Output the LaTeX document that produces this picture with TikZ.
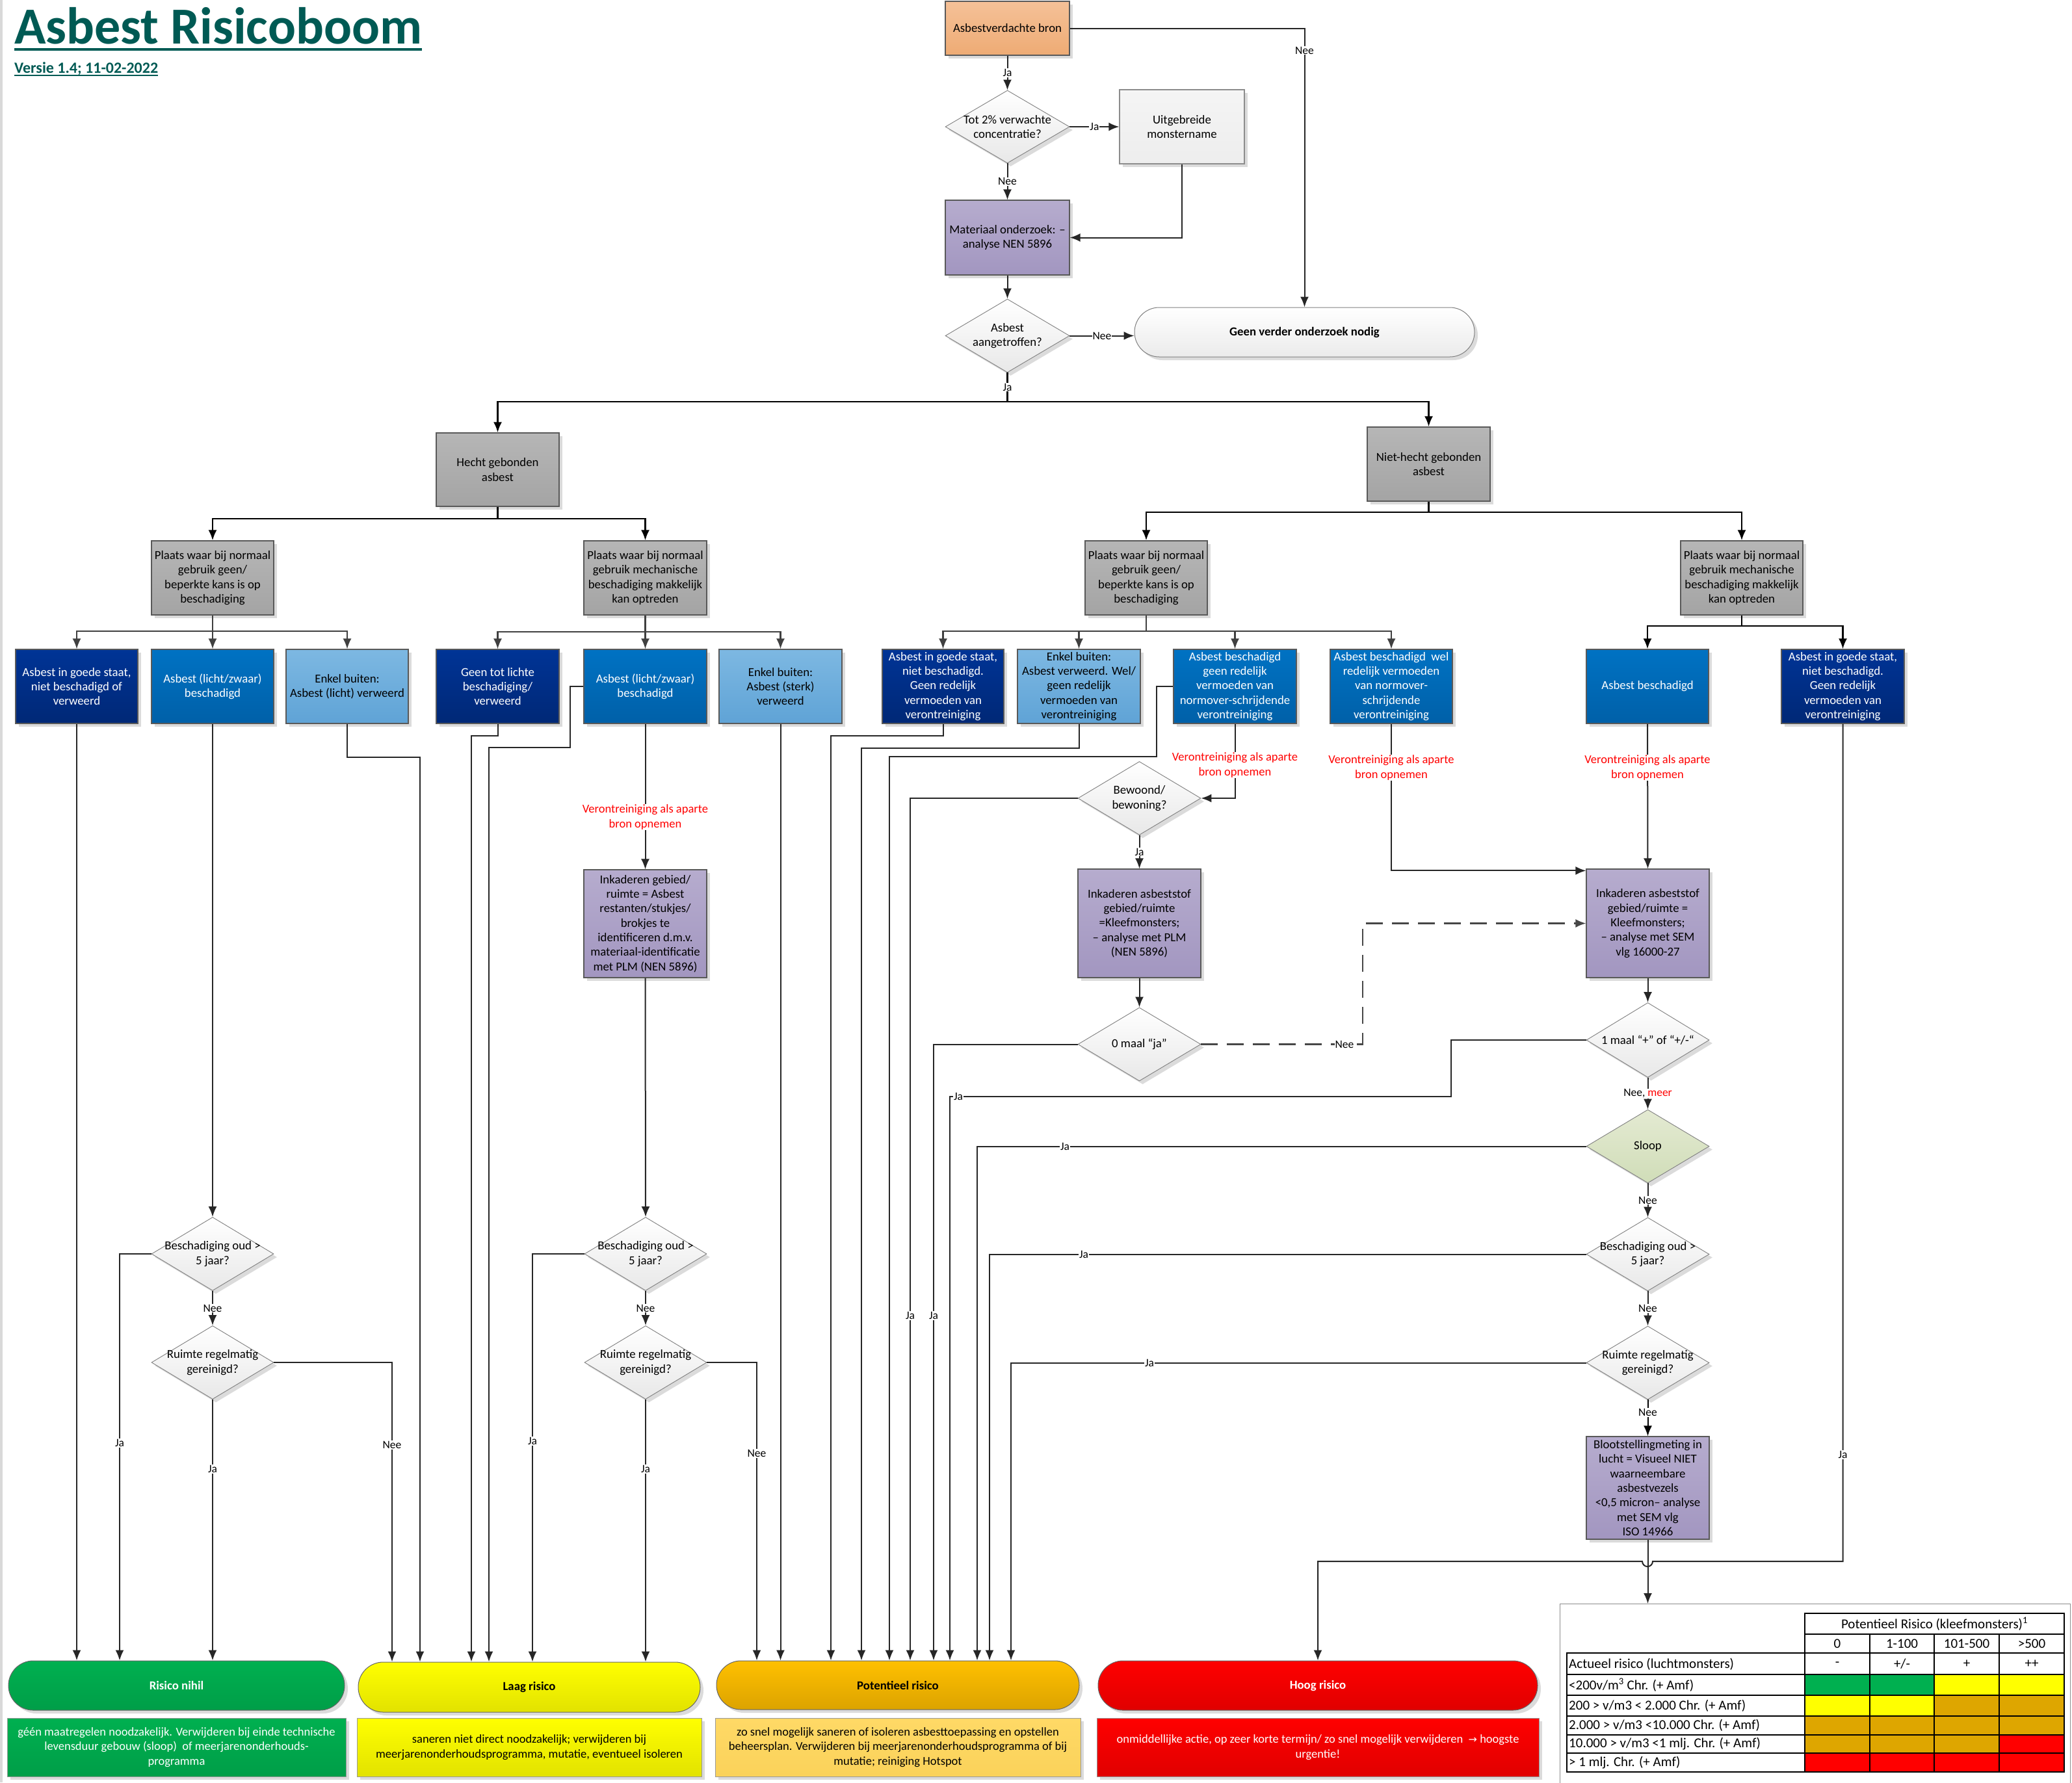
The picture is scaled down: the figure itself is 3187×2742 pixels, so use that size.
\documentclass[tikz,border=0pt]{standalone}
\usepackage{fontspec}
\setmainfont{Carlito}
\newfontfamily\symfont{DejaVu Sans}
\usetikzlibrary{shapes.geometric,shapes.misc,arrows.meta,shadows}
\definecolor{titlecol}{RGB}{0,90,84}
\definecolor{orT}{RGB}{245,193,152}\definecolor{orB}{RGB}{238,171,116}
\definecolor{puT}{RGB}{182,172,206}\definecolor{puB}{RGB}{162,150,192}
\definecolor{grT}{RGB}{182,182,182}\definecolor{grB}{RGB}{164,164,164}
\definecolor{nvT}{RGB}{0,52,150}\definecolor{nvB}{RGB}{0,40,118}
\definecolor{mbT}{RGB}{0,114,195}\definecolor{mbB}{RGB}{0,96,168}
\definecolor{lbT}{RGB}{125,184,226}\definecolor{lbB}{RGB}{95,163,214}
\definecolor{slT}{RGB}{228,234,210}\definecolor{slB}{RGB}{208,221,184}
\definecolor{cgreen}{RGB}{0,176,80}\definecolor{cgreenB}{RGB}{0,158,72}
\definecolor{cyel}{RGB}{255,255,0}\definecolor{cyelB}{RGB}{226,226,0}
\definecolor{corg}{RGB}{255,192,0}\definecolor{corgB}{RGB}{220,163,0}
\definecolor{cred}{RGB}{255,0,0}\definecolor{credB}{RGB}{224,0,0}
\definecolor{lorg}{RGB}{255,217,102}\definecolor{lorgB}{RGB}{250,210,90}
\definecolor{gold}{RGB}{222,166,0}
\newcommand\tabrow[6]{%
  \fill[#3] (2776,#1) rectangle (2876,#2);
  \fill[#4] (2876,#1) rectangle (2975,#2);
  \fill[#5] (2975,#1) rectangle (3075,#2);
  \fill[#6] (3075,#1) rectangle (3175,#2);}
\begin{document}
\begin{tikzpicture}[x=1pt,y=-1pt,
  font=\fontsize{18.8}{22.3}\selectfont,
  wh/.style 2 args={minimum width=#1pt,minimum height=#2pt},
  shad/.style={drop shadow={shadow xshift=5pt,shadow yshift=-5pt,fill=black!14,opacity=1}},
  box/.style={draw=black!65,line width=1.2pt,align=center,inner sep=1pt,shad},
  orangebox/.style={box,top color=orT,bottom color=orB},
  purplebox/.style={box,top color=puT,bottom color=puB},
  graybox/.style={box,top color=grT,bottom color=grB},
  navybox/.style={box,top color=nvT,bottom color=nvB,text=white},
  medbox/.style={box,top color=mbT,bottom color=mbB,text=white},
  ltbox/.style={box,top color=lbT,bottom color=lbB},
  lightbox/.style={box,draw=black!45,top color=black!4,bottom color=black!7},
  dia/.style={shape=diamond,draw=black!50,line width=0.9pt,inner sep=0pt,top color=white,bottom color=black!9,shad},
  sloopdia/.style={dia,top color=slT,bottom color=slB},
  dtxt/.style={align=center,inner sep=0pt},
  capsule/.style={rounded rectangle,draw=black!60,line width=1pt,inner sep=2pt,font=\fontsize{18.8}{22.3}\selectfont\bfseries,shad},
  tbox/.style={draw=black!40,line width=1pt,align=center,inner sep=2pt,font=\fontsize{18.5}{22.5}\selectfont,shad},
  conn/.style={draw=black!85,line width=2pt},
  bus/.style={draw=black,line width=2.6pt},
  arr/.style={-{Latex[length=16pt,width=13pt]}},
  lbl/.style={fill=white,inner sep=1pt,font=\fontsize{17.5}{20}\selectfont},
  redt/.style={fill=white,inner sep=1pt,text=red,align=center,font=\fontsize{18.5}{22.3}\selectfont},
  tt/.style={inner sep=0pt,font=\fontsize{21}{24}\selectfont},
  tabl/.style={draw=black,line width=1.1pt},
  tabthick/.style={draw=black,line width=2.6pt}
]
\useasboundingbox (0,0) rectangle (3187,2742);
\fill[white] (0,0) rectangle (3187,2742);
\draw[black!15,line width=4pt] (2,0) -- (2,2742);

% title
\node[anchor=base west,inner sep=0pt,text=titlecol,font=\fontsize{80}{90}\selectfont\bfseries] (title) at (22,67) {Asbest Risicoboom};
\draw[titlecol,line width=4pt] ([yshift=-9pt]title.base west) -- ([yshift=-9pt]title.base east);
\node[anchor=base west,inner sep=0pt,text=titlecol,font=\fontsize{24}{28}\selectfont\bfseries] (versie) at (22,112) {Versie 1.4; 11-02-2022};
\draw[titlecol,line width=1.6pt] ([yshift=-4pt]versie.base west) -- ([yshift=-4pt]versie.base east);

% top part
\node[orangebox,wh={191}{83}] (src) at (1549.5,43.5) {Asbestverdachte bron};
\node[dia,wh={191}{112}] (q1) at (1549.5,195) {};
\node[dtxt] (q1t) at (q1) {Tot 2\% verwachte\\concentratie?};
\node[lightbox,wh={192}{114}] (uit) at (1818,195) {Uitgebreide\\monstername};
\node[purplebox,wh={191}{115}] (mat) at (1549.5,365.5) {Materiaal onderzoek: –\\analyse NEN 5896};
\node[dia,wh={191}{113}] (q2) at (1549.5,516.5) {};
\node[dtxt] (q2t) at (q2) {Asbest\\aangetroffen?};
\node[capsule,draw=black!50,top color=white,bottom color=black!8,wh={527}{76}] (geen) at (2006.5,511) {Geen verder onderzoek nodig};

% level 2/3
\node[graybox,wh={189}{113}] (hecht) at (765.5,722.5) {Hecht gebonden\\asbest};
\node[graybox,wh={189}{114}] (nh) at (2197.5,714) {Niet-hecht gebonden\\asbest};
\node[graybox,wh={188}{114}] (hl) at (327,889) {Plaats waar bij normaal\\gebruik geen/\\beperkte kans is op\\beschadiging};
\node[graybox,wh={189}{114}] (hr) at (992.5,889) {Plaats waar bij normaal\\gebruik mechanische\\beschadiging makkelijk\\kan optreden};
\node[graybox,wh={188}{114}] (nl) at (1763,889) {Plaats waar bij normaal\\gebruik geen/\\beperkte kans is op\\beschadiging};
\node[graybox,wh={188}{114}] (nr) at (2679,889) {Plaats waar bij normaal\\gebruik mechanische\\beschadiging makkelijk\\kan optreden};

% row of blue boxes
\node[navybox,wh={188}{114}] (b1) at (118,1056) {Asbest in goede staat,\\niet beschadigd of\\verweerd};
\node[medbox,wh={188}{114}] (b2) at (327,1056) {Asbest (licht/zwaar)\\beschadigd};
\node[ltbox,wh={188}{114}] (b3) at (534,1056) {Enkel buiten:\\Asbest (licht) verweerd};
\node[navybox,wh={189}{114}] (b4) at (765.5,1056) {Geen tot lichte\\beschadiging/\\verweerd};
\node[medbox,wh={189}{114}] (b5) at (992.5,1056) {Asbest (licht/zwaar)\\beschadigd};
\node[ltbox,wh={189}{114}] (b6) at (1200.5,1056) {Enkel buiten:\\Asbest (sterk)\\verweerd};
\node[navybox,wh={187}{114}] (b7) at (1450.5,1056) {Asbest in goede staat,\\niet beschadigd.\\Geen redelijk\\vermoeden van\\verontreiniging};
\node[ltbox,wh={189}{114}] (b8) at (1659.5,1056) {Enkel buiten:\\Asbest verweerd. Wel/\\geen redelijk\\vermoeden van\\verontreiniging};
\node[medbox,wh={189}{114}] (b9) at (1899.5,1056) {Asbest beschadigd\\geen redelijk\\vermoeden van\\normover-schrijdende\\verontreiniging};
\node[medbox,wh={188}{114}] (b10) at (2140,1056) {Asbest beschadigd\ \ wel\\redelijk vermoeden\\van normover-\\schrijdende\\verontreiniging};
\node[medbox,wh={188}{114}] (b11) at (2534,1056) {Asbest beschadigd};
\node[navybox,wh={189}{114}] (b12) at (2834.5,1056) {Asbest in goede staat,\\niet beschadigd.\\Geen redelijk\\vermoeden van\\verontreiniging};

% purple boxes
\node[purplebox,wh={189}{166}] (ink1) at (992.5,1421) {Inkaderen gebied/\\ruimte = Asbest\\restanten/stukjes/\\brokjes te\\identificeren d.m.v.\\materiaal-identificatie\\met PLM (NEN 5896)};
\node[purplebox,wh={189}{167}] (ink2) at (1752.5,1420.5) {Inkaderen asbeststof\\gebied/ruimte\\=Kleefmonsters;\\– analyse met PLM\\(NEN 5896)};
\node[purplebox,wh={189}{167}] (ink3) at (2534.5,1420.5) {Inkaderen asbeststof\\gebied/ruimte =\\Kleefmonsters;\\– analyse met SEM\\vlg 16000-27};
\node[purplebox,wh={189}{158}] (bloot) at (2534.5,2289) {Blootstellingmeting in\\lucht = Visueel NIET\\waarneembare\\asbestvezels\\<0,5 micron– analyse\\met SEM vlg\\ISO 14966};

% diamonds
\node[dia,wh={188}{113}] (qb1) at (327,1929) {};
\node[dtxt] (qb1t) at (qb1) {Beschadiging oud >\\5 jaar?};
\node[dia,wh={188}{113}] (qr1) at (327,2096) {};
\node[dtxt] (qr1t) at (qr1) {Ruimte regelmatig\\gereinigd?};
\node[dia,wh={188}{113}] (qb2) at (993,1929) {};
\node[dtxt] (qb2t) at (qb2) {Beschadiging oud >\\5 jaar?};
\node[dia,wh={188}{113}] (qr2) at (993,2096) {};
\node[dtxt] (qr2t) at (qr2) {Ruimte regelmatig\\gereinigd?};
\node[dia,wh={189}{113}] (bew) at (1752.5,1228) {};
\node[dtxt] (bewt) at (bew) {Bewoond/\\bewoning?};
\node[dia,wh={189}{113}] (q0) at (1752.5,1606.5) {};
\node[dtxt] (q0t) at (q0) {0 maal “ja”};
\node[dia,wh={189}{115}] (q1m) at (2534.5,1600) {};
\node[dtxt] (q1mt) at (q1m) {1 maal “+” of “+/-“};
\node[sloopdia,wh={189}{113}] (sloop) at (2534.5,1763.5) {};
\node[dtxt] (sloopt) at (sloop) {Sloop};
\node[dia,wh={189}{113}] (qb3) at (2534.5,1929.5) {};
\node[dtxt] (qb3t) at (qb3) {Beschadiging oud >\\5 jaar?};
\node[dia,wh={189}{113}] (qr3) at (2534.5,2096.5) {};
\node[dtxt] (qr3t) at (qr3) {Ruimte regelmatig\\gereinigd?};

% result capsules
\node[capsule,top color=cgreen,bottom color=cgreenB,text=white,wh={521}{76}] (nihil) at (271.5,2593) {Risico nihil};
\node[capsule,top color=cyel,bottom color=cyelB,wh={530}{77}] (laag) at (814,2595.5) {Laag risico};
\node[capsule,top color=corg,bottom color=corgB,wh={562}{75}] (pot) at (1381,2592.5) {Potentieel risico};
\node[capsule,top color=cred,bottom color=credB,text=white,wh={680}{76}] (hoog) at (2027,2593) {Hoog risico};
\node[tbox,top color=cgreen,bottom color=cgreenB,text=white,wh={521}{90}] (tnihil) at (271.5,2688) {géén maatregelen noodzakelijk. Verwijderen bij einde technische\\levensduur gebouw (sloop)\ \ of meerjarenonderhouds-\\programma};
\node[tbox,top color=cyel,bottom color=cyelB,wh={530}{90}] (tlaag) at (814,2688) {saneren niet direct noodzakelijk; verwijderen bij\\meerjarenonderhoudsprogramma, mutatie, eventueel isoleren};
\node[tbox,top color=lorg,bottom color=lorgB,wh={562}{90}] (tpot) at (1381,2688) {zo snel mogelijk saneren of isoleren asbesttoepassing en opstellen\\beheersplan. Verwijderen bij meerjarenonderhoudsprogramma of bij\\mutatie; reiniging Hotspot};
\node[tbox,top color=cred,bottom color=credB,text=white,wh={680}{90}] (thoog) at (2027,2688) {onmiddellijke actie, op zeer korte termijn/ zo snel mogelijk verwijderen\ \ {\symfont\fontsize{16}{20}\selectfont →} hoogste\\urgentie!};

% legend frame
\node[draw=black!45,line width=1.2pt,minimum width=785pt,minimum height=282pt,anchor=north west,inner sep=0pt] (legend) at (2399,2467) {};

% ---------- connectors: top ----------
\draw[conn,arr] (src.south) -- node[lbl]{Ja} (q1.north);
\draw[conn,arr] (q1.east) -- node[lbl]{Ja} (uit.west);
\draw[conn,arr] (q1.south) -- node[lbl]{Nee} (mat.north);
\draw[conn,arr] (uit.south) |- (mat.east);
\draw[conn,arr] (src.east) -| node[lbl,pos=0.54]{Nee} (geen.north);
\draw[conn,arr] (mat.south) -- (q2.north);
\draw[conn,arr] (q2.east) -- node[lbl]{Nee} (q2.east -| geen.west);

% buses
\coordinate (jb) at (1549.5,618);
\draw[bus] (q2.south) -- node[lbl]{Ja} (jb);
\draw[bus,arr] (jb) -| (hecht.north);
\draw[bus,arr] (jb) -| (nh.north);
\coordinate (hb) at (765.5,798);
\draw[bus] (hecht.south) -- (hb);
\draw[bus,arr] (hb) -| (hl.north);
\draw[bus,arr] (hb) -| (hr.north);
\coordinate (nb) at (2197.5,788);
\draw[bus] (nh.south) -- (nb);
\draw[bus,arr] (nb) -| (nl.north);
\draw[bus,arr] (nb) -| (nr.north);
\coordinate (hlb) at (327,971);
\draw[conn,line width=2.2pt,black!75] (hl.south) -- (hlb);
\foreach \n in {b1,b2,b3} \draw[conn,line width=2.2pt,black!75,arr] (hlb) -| (\n.north);
\coordinate (hrb) at (992.5,972);
\draw[conn,line width=2.2pt,black!75] (hr.south) -- (hrb);
\foreach \n in {b4,b5,b6} \draw[conn,line width=2.2pt,black!75,arr] (hrb) -| (\n.north);
\coordinate (nlb) at (1763,971);
\draw[conn,line width=2.2pt,black!75] (nl.south) -- (nlb);
\foreach \n in {b7,b8,b9,b10} \draw[conn,line width=2.2pt,black!75,arr] (nlb) -| (\n.north);
\coordinate (nrb) at (2679,963);
\draw[bus] (nr.south) -- (nrb);
\foreach \n in {b11,b12} \draw[bus,arr] (nrb) -| (\n.north);

% ---------- hecht left column ----------
\draw[conn,arr] (b1.south) -- (b1.south |- nihil.north);
\draw[conn,arr] (b2.south) -- (qb1.north);
\draw[conn,arr] (qb1.west) -| (184,0 |- nihil.north);
\draw[conn,arr] (qb1.south) -- node[lbl]{Nee} (qr1.north);
\draw[conn,arr] (qr1.south) -- (qr1.south |- nihil.north);
\draw[conn,arr] (qr1.east) -| (603,0 |- laag.north);
\draw[conn,arr] (b3.south) |- (646,1165) -- (646,0 |- laag.north);

% ---------- hecht right column ----------
\draw[conn,arr] (b4.south) |- (725,1132) -- (725,0 |- laag.north);
\draw[conn,arr] (b5.west) -| (877,1150) -| (752,0 |- laag.north);
\draw[conn,arr] (b5.south) -- (ink1.north);
\draw[conn,arr] (ink1.south) -- (qb2.north);
\draw[conn,arr] (qb2.west) -| (819,0 |- laag.north);
\draw[conn,arr] (qb2.south) -- node[lbl]{Nee} (qr2.north);
\draw[conn,arr] (qr2.south) -- (qr2.south |- laag.north);
\draw[conn,arr] (qr2.east) -| (1164,0 |- pot.north);
\draw[conn,arr] (b6.south) -- (b6.south |- pot.north);

% ---------- niet-hecht left ----------
\draw[conn,arr] (b7.south) |- (1278,1132) -- (1278,0 |- pot.north);
\draw[conn,arr] (b8.south) |- (1325,1151) -- (1325,0 |- pot.north);
\draw[conn,arr] (b9.west) -| (1779,1164) -| (1368,0 |- pot.north);
\draw[conn,arr] (b9.south) |- (bew.east);
\draw[conn,arr] (bew.west) -| (1400,0 |- pot.north);
\draw[conn,arr] (bew.south) -- node[lbl]{Ja} (ink2.north);
\draw[conn,arr] (ink2.south) -- (q0.north);
\draw[conn,arr] (q0.west) -| (1436,0 |- pot.north);
\draw[draw=black!72,line width=2.2pt,dash pattern=on 26pt off 14pt,arr] (q0.east) -- (2096,1606.5) |- (ink3.west);
\draw[conn,arr] (b10.south) |- ([yshift=-3pt]ink3.north west);
\draw[conn,arr] (b11.south) -- (ink3.north);

% ---------- niet-hecht right chain ----------
\draw[conn,arr] (ink3.south) -- (q1m.north);
\draw[conn,arr] (q1m.west) -| (2232,1687) -| (1461,0 |- pot.north);
\draw[conn,arr] (q1m.south) -- node[lbl]{Nee, \textcolor{red}{meer}} (sloop.north);
\draw[conn,arr] (sloop.west) -| (1503,0 |- pot.north);
\draw[conn,arr] (sloop.south) -- node[lbl]{Nee} (qb3.north);
\draw[conn,arr] (qb3.west) -| (1522,0 |- pot.north);
\draw[conn,arr] (qb3.south) -- node[lbl]{Nee} (qr3.north);
\draw[conn,arr] (qr3.west) -| (1555,0 |- pot.north);
\draw[conn,black,arr] (qr3.south) -- node[lbl,pos=0.35]{Nee} (bloot.north);
\draw[conn,arr] (bloot.south) -- (bloot.south |- legend.north);
\draw[conn,arr] (b12.south) |- (2542,2402) arc[start angle=0,end angle=180,radius=8] -| (hoog.north);

% ---------- labels on long lines ----------
\node[redt] (rt1) at (992.5,1257) {Verontreiniging als aparte\\bron opnemen};
\node[redt] (rt2) at (1899.5,1177) {Verontreiniging als aparte\\bron opnemen};
\node[redt] (rt3) at (2140,1181) {Verontreiniging als aparte\\bron opnemen};
\node[redt] (rt4) at (2534,1181) {Verontreiniging als aparte\\bron opnemen};
\node[lbl] (l1) at (184,2220) {Ja};
\node[lbl] (l2) at (327,2260) {Ja};
\node[lbl] (l3) at (603,2223) {Nee};
\node[lbl] (l4) at (819,2217) {Ja};
\node[lbl] (l5) at (993,2260) {Ja};
\node[lbl] (l6) at (1164,2236) {Nee};
\node[lbl] (l7) at (1400,2024) {Ja};
\node[lbl] (l8) at (1436,2024) {Ja};
\node[lbl] (l9) at (1474,1687) {Ja};
\node[lbl] (l10) at (1638,1763.5) {Ja};
\node[lbl] (l11) at (1667,1929.5) {Ja};
\node[lbl] (l12) at (1768,2096.5) {Ja};
\node[lbl] (l13) at (2068,1606.5) {Nee};
\node[lbl] (l14) at (2834.5,2238) {Ja};

% ---------- risk table ----------
\tabrow{2576}{2608}{cgreen}{cgreen}{cyel}{cyel}
\tabrow{2608}{2640}{cyel}{cyel}{gold}{gold}
\tabrow{2640}{2669}{gold}{gold}{gold}{gold}
\tabrow{2669}{2697}{gold}{gold}{gold}{cred}
\tabrow{2697}{2726}{cred}{cred}{cred}{cred}
\draw[tabl] (2776,2514) -- (3175,2514);
\foreach \yy in {2576,2608,2640,2669,2697} \draw[tabl] (2410,\yy) -- (3175,\yy);
\foreach \xx in {2876,2975,3075} \draw[tabl] (\xx,2514) -- (\xx,2726);
\draw[tabthick] (2776,2482) rectangle (3175,2543);
\draw[tabthick] (2410,2543) rectangle (3175,2726);
\draw[tabthick] (2776,2543) -- (2776,2726);
\node[tt] (th) at (2975.5,2498) {Potentieel Risico (kleefmonsters)\textsuperscript{1}};
\node[tt] (h0) at (2826,2528.5) {0};
\node[tt] (h1) at (2925.5,2528.5) {1-100};
\node[tt] (h2) at (3025,2528.5) {101-500};
\node[tt] (h3) at (3125,2528.5) {>500};
\node[tt] (v0) at (2826,2560) {-};
\node[tt] (v1) at (2925.5,2560) {+/-};
\node[tt] (v2) at (3025,2560) {+};
\node[tt] (v3) at (3125,2560) {++};
\node[tt,anchor=west] (r1) at (2413,2560) {Actueel risico (luchtmonsters)};
\node[tt,anchor=west] (r2) at (2413,2592) {<200v/m\textsuperscript{3} Chr. (+ Amf)};
\node[tt,anchor=west] (r3) at (2413,2624) {200 > v/m3 < 2.000 Chr. (+ Amf)};
\node[tt,anchor=west] (r4) at (2413,2654.5) {2.000 > v/m3 <10.000 Chr. (+ Amf)};
\node[tt,anchor=west] (r5) at (2413,2683) {10.000 > v/m3 <1 mlj. Chr. (+ Amf)};
\node[tt,anchor=west] (r6) at (2413,2711.5) {> 1 mlj. Chr. (+ Amf)};
\end{tikzpicture}
\end{document}
